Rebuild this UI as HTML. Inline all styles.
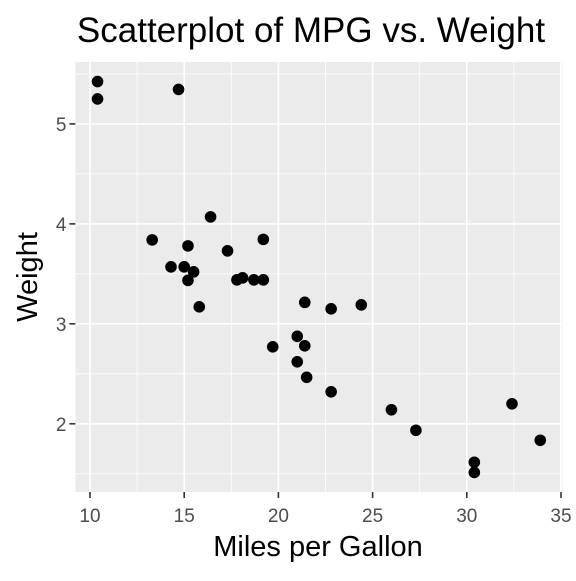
<!DOCTYPE html>
<html><head><meta charset="utf-8"><style>
body{margin:0;background:#fff;font-family:"Liberation Sans",Arial,sans-serif}
</style></head><body>
<svg id="chart" width="576" height="576" xmlns="http://www.w3.org/2000/svg"></svg>
<script>
const mpg=[21,21,22.8,21.4,18.7,18.1,14.3,24.4,22.8,19.2,17.8,16.4,17.3,15.2,10.4,10.4,14.7,32.4,30.4,33.9,21.5,15.5,15.2,13.3,19.2,27.3,26,30.4,15.8,19.7,15,21.4];
const wt=[2.62,2.875,2.32,3.215,3.44,3.46,3.57,3.19,3.15,3.44,3.44,4.07,3.73,3.78,5.25,5.424,5.345,2.2,1.615,1.835,2.465,3.52,3.435,3.84,3.845,1.935,2.14,1.513,3.17,2.77,3.57,2.78];
const xTicks=[10,15,20,25,30,35];
const yTicks=[2,3,4,5];
const xMinor=[12.5,17.5,22.5,27.5,32.5];
const yMinor=[1.5,2.5,3.5,4.5,5.5];
const L=75.4,R=562.4,T=62,B=492;
const x0=9.225,x1=35.075,y0=1.3175,y1=5.6195;
const sx=v=>L+(v-x0)/(x1-x0)*(R-L);
const sy=v=>B-(v-y0)/(y1-y0)*(B-T);
const svg=document.getElementById('chart');
const NS='http://www.w3.org/2000/svg';
function mk(tag,attrs,parent){const e=document.createElementNS(NS,tag);for(const k in attrs)e.setAttribute(k,attrs[k]);(parent||svg).appendChild(e);return e;}
const bg=mk('rect',{x:L,y:T,width:R-L,height:B-T,fill:'#ebebeb'});


xMinor.forEach(v=>{const l=mk('line',{x1:sx(v),x2:sx(v),y1:T,y2:B,stroke:'#fff','stroke-width':0.8});});
yMinor.forEach(v=>{if(v>y1)return;const l=mk('line',{x1:L,x2:R,y1:sy(v),y2:sy(v),stroke:'#fff','stroke-width':0.8});});
xTicks.forEach(v=>{
 const l=mk('line',{x1:sx(v),x2:sx(v),y1:T,y2:B,stroke:'#fff','stroke-width':1.6});
 
 
 const t=mk('line',{x1:sx(v),x2:sx(v),y1:B,y2:B+6,stroke:'#333','stroke-width':1.6});
 
 
 const tx=mk('text',{x:sx(v),y:B+30,'text-anchor':'middle','font-size':19,fill:'#4d4d4d'});tx.textContent=v;
 
 
});
yTicks.forEach(v=>{
 const l=mk('line',{x1:L,x2:R,y1:sy(v),y2:sy(v),stroke:'#fff','stroke-width':1.6});
 
 
 const t=mk('line',{x1:L-6,x2:L,y1:sy(v),y2:sy(v),stroke:'#333','stroke-width':1.6});
 
 
 const tx=mk('text',{x:L-9,y:sy(v)+7,'text-anchor':'end','font-size':19,fill:'#4d4d4d'});tx.textContent=v;
 
 
});
mpg.forEach((m,i)=>{const c=mk('circle',{cx:sx(m),cy:sy(wt[i]),r:5.8,fill:'#000'});
 
 });
const title=mk('text',{x:311,y:42,'text-anchor':'middle','font-size':35,fill:'#000'});title.textContent='Scatterplot of MPG vs. Weight';


const xt=mk('text',{x:318,y:556,'text-anchor':'middle','font-size':29,fill:'#000'});xt.textContent='Miles per Gallon';


const yt=mk('text',{x:0,y:0,'text-anchor':'middle','font-size':29,fill:'#000',transform:`translate(37,${(T+B)/2}) rotate(-90)`});yt.textContent='Weight';


</script>
</body></html>
